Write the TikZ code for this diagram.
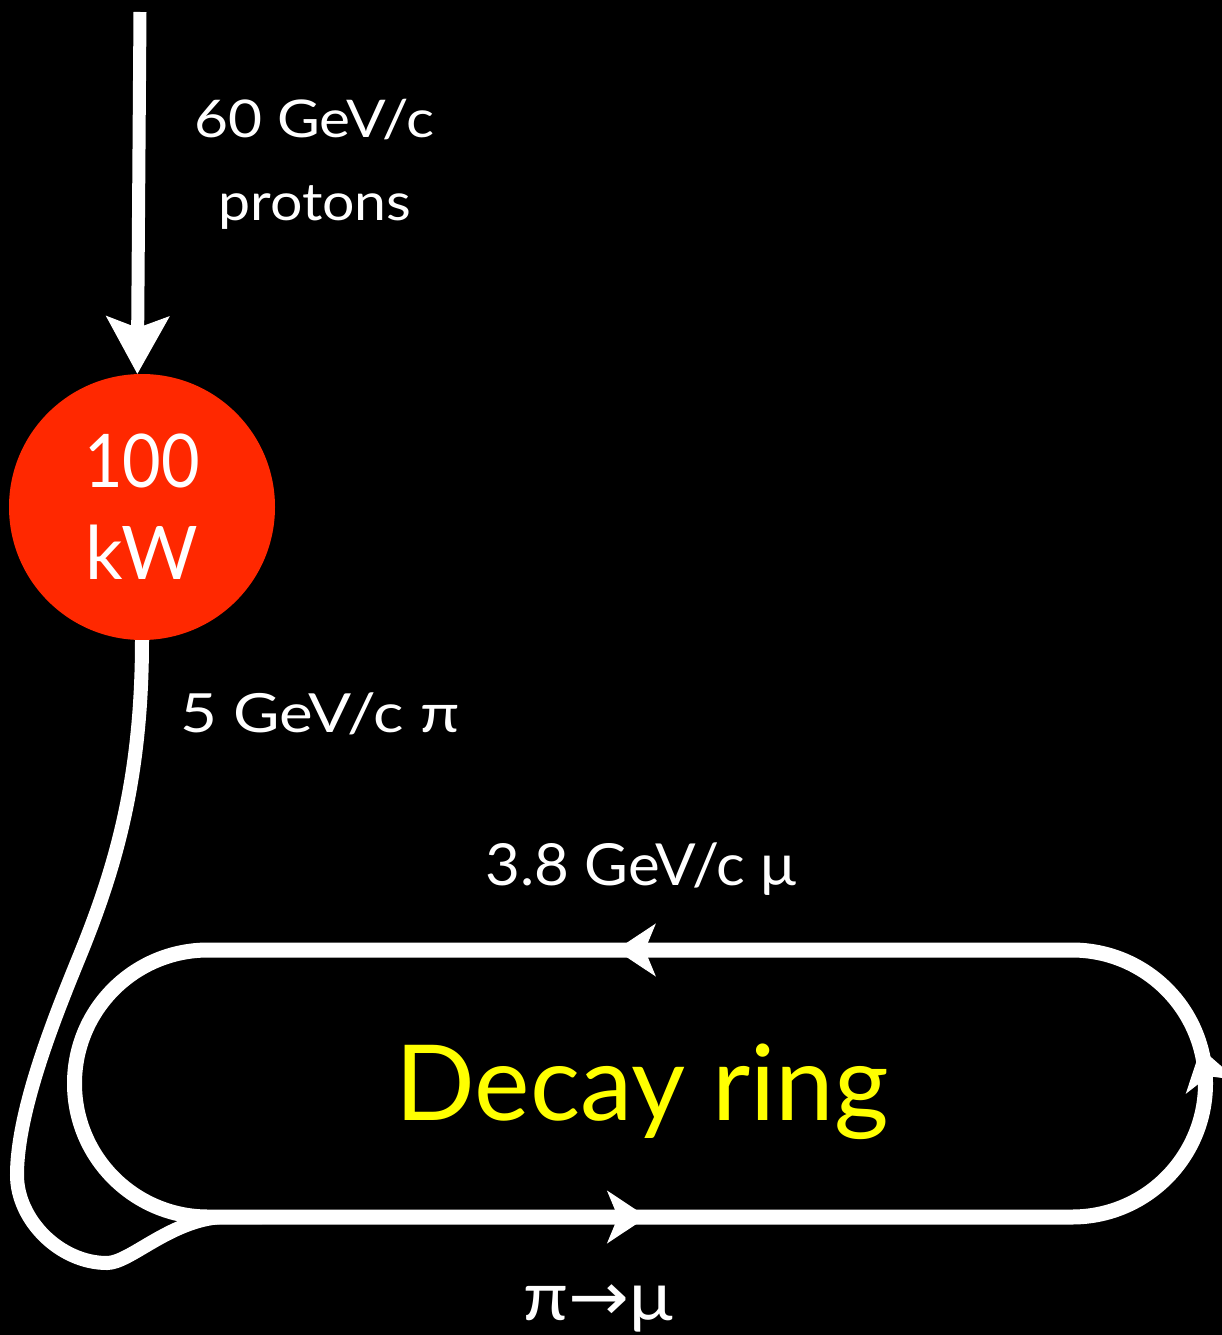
\documentclass[tikz,border=0pt]{standalone}
\usepackage{fontspec}
\setmainfont{Lato}
\newfontfamily\arrowfont{DejaVu Sans}
\usetikzlibrary{arrows.meta,decorations.markings}
\definecolor{beamred}{RGB}{255,40,0}
\definecolor{ringyellow}{RGB}{255,255,0}
\tikzset{
  ringtip/.tip={Stealth[length=40pt,width=53pt,inset=11pt,line width=1pt]},
  beam/.style={draw=white, line width=14pt, line cap=butt},
  lbl/.style={text=white, inner sep=0pt, anchor=base},
}
\begin{document}
\begin{tikzpicture}[x=1pt,y=-1pt]
\fill[black] (0,0) rectangle (1222,1335);
\useasboundingbox (0,0) rectangle (1222,1335);

% target
\node[circle, fill=beamred, minimum size=266pt, inner sep=0pt, text=white,
      align=center, font=\fontsize{74}{92}\selectfont] (target) at (142,507) {\scalebox{0.9}[1]{100}\\kW};

% incoming proton beam
\coordinate (src) at (140,12);
\draw[beam, line width=13pt, -{Stealth[length=58pt,width=64pt,inset=12pt,line width=1pt]}] (src) -- (target.92);

% decay ring
\draw[beam, line width=15pt, postaction={decorate},
  decoration={markings,
    mark=at position 0.171 with {\arrow{ringtip}},
    mark=at position 0.4322 with {\arrow{ringtip}},
    mark=at position 0.6777 with {\arrow{ringtip}}}]
  (208,1217) -- (1072,1217) arc[start angle=90, end angle=-90, radius=133.5]
  -- (208,950) arc[start angle=-90, end angle=-270, radius=133.5] -- cycle;

% pion transfer line
\coordinate (merge) at (262,1217);
\draw[beam, line width=14pt]
  (target.south) .. controls (142,780) and (115,870) .. (78,960)
  .. controls (56,1014) and (17,1110) .. (17,1175)
  .. controls (17,1220) and (60,1263) .. (107,1263)
  .. controls (130,1263) and (170,1220) .. (222,1217) -- (merge);

% labels
\node[lbl, font=\fontsize{52}{60}\selectfont] (l60) at (314,138) {\scalebox{1.128}[1]{60 GeV/c}};
\node[lbl, font=\fontsize{52}{60}\selectfont] (lprot) at (315,220) {\scalebox{1.10}[1]{protons}};
\node[lbl, font=\fontsize{54}{60}\selectfont] (l5) at (320,732) {\scalebox{1.18}[1]{5 GeV/c π}};
\node[lbl, font=\fontsize{58}{60}\selectfont] (l38) at (641,885) {\scalebox{1.035}[1]{3.8 GeV/c μ}};
\node[lbl, text=ringyellow, font=\fontsize{105}{120}\selectfont] (ldecay) at (642,1120) {Decay ring};
\node[lbl, font=\fontsize{68}{70}\selectfont] (lpimu) at (598,1320) {\scalebox{1.07}[1]{π{\arrowfont →}μ}};
\end{tikzpicture}
\end{document}
